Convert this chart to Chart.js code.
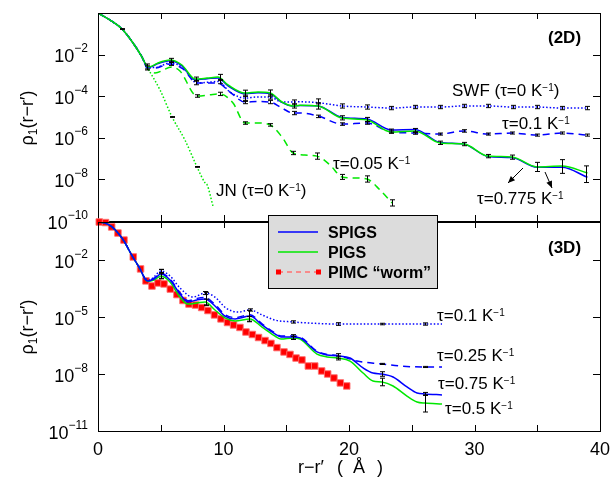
<!DOCTYPE html>
<html><head><meta charset="utf-8">
<script src="https://cdn.jsdelivr.net/npm/chart.js@4.4.1/dist/chart.umd.min.js"></script>
<style>
html,body{margin:0;padding:0;background:#fff;}
#wrap{position:relative;width:611px;height:481px;overflow:hidden;}
canvas{position:absolute;left:0;top:0;}
</style></head><body>
<div id="wrap"><canvas id="c2d" width="611" height="481"></canvas><canvas id="c3d" width="611" height="481"></canvas></div>
<script>
// ---------- DATA (r in Å, values given as log10 of rho_1) ----------
// 2D panel
const pigs2D_r   = [0,0.96,1.91,2.79,3.51,3.90,4.14,4.78,5.74,6.69,7.73,8.69,9.56,10.36,11.71,12.75,13.71,14.66,15.54,16.10,17.53,19.44,21.43,23.35,25.26,27.25,29.16,31.08,32.99,34.98,36.97,39.0];
const pigs2D_lg  = [0,-0.34,-0.77,-1.44,-2.12,-2.55,-2.58,-2.40,-2.26,-2.50,-3.17,-3.13,-3.08,-3.46,-3.85,-3.80,-3.85,-4.28,-4.47,-4.44,-4.47,-5.05,-5.14,-5.72,-5.67,-6.25,-6.30,-6.88,-6.92,-7.40,-7.36,-7.69];
const spigs2D_lg = [0,-0.34,-0.77,-1.44,-2.12,-2.56,-2.60,-2.43,-2.30,-2.54,-3.20,-3.16,-3.12,-3.50,-3.88,-3.84,-3.88,-4.30,-4.48,-4.45,-4.47,-5.02,-5.10,-5.62,-5.60,-6.22,-6.30,-6.90,-6.95,-7.42,-7.42,-7.90];
const swf2D_r    = [0,0.96,1.91,2.79,3.51,3.90,4.54,5.74,6.77,7.89,8.92,9.56,10.52,11.71,12.67,13.71,14.66,15.54,16.10,17.53,19.44,21.43,23.35,25.26,27.25,29.16,31.08,33.07,34.98,36.97,39.0];
const swf2D_lg   = [0,-0.34,-0.77,-1.44,-2.12,-2.60,-2.62,-2.40,-2.64,-3.37,-3.32,-3.29,-3.80,-4.09,-4.04,-4.04,-4.28,-4.28,-4.27,-4.31,-4.47,-4.52,-4.57,-4.52,-4.52,-4.47,-4.47,-4.52,-4.52,-4.57,-4.57];
const t01_2D_r   = [0,0.96,1.91,2.79,3.51,3.90,4.50,5.74,6.77,7.89,8.90,9.56,10.52,11.71,12.70,13.71,14.66,15.54,16.10,17.53,19.44,21.43,23.35,25.26,27.25,29.16,31.08,32.99,34.98,36.97,39.0];
const t01_2D_lg  = [0,-0.34,-0.77,-1.44,-2.12,-2.62,-2.65,-2.45,-2.69,-3.37,-3.36,-3.37,-3.80,-4.28,-4.26,-4.28,-4.57,-4.81,-4.81,-4.95,-5.34,-5.29,-5.72,-5.77,-5.82,-5.67,-5.82,-5.77,-5.87,-5.77,-5.87];
const t005_2D_r  = [0,0.96,1.91,2.79,3.51,3.90,4.54,5.90,6.53,7.89,8.84,9.72,10.76,11.71,12.75,13.71,14.66,15.54,16.49,17.45,18.49,19.44,20.48,21.43,22.47,23.43];
const t005_2D_lg = [0,-0.34,-0.77,-1.44,-2.12,-2.64,-2.88,-2.60,-2.79,-3.99,-3.94,-3.89,-4.33,-5.29,-5.29,-5.38,-5.96,-6.73,-6.83,-6.88,-7.31,-7.88,-7.93,-7.98,-8.51,-9.13];
const jn2D_r     = [0,0.96,1.91,2.79,3.51,3.90,4.14,4.94,5.90,6.93,7.89,8.53,8.70,9.16];
const jn2D_lg    = [0,-0.34,-0.77,-1.44,-2.12,-2.60,-2.84,-3.70,-5.00,-6.11,-7.40,-8.17,-8.27,-9.28];
// error bars [r, log10 centre, half length in decades]
const err2D_solid = [[1.91,-0.77,0.02],[3.90,-2.57,0.12],[5.85,-2.28,0.10],[7.82,-3.18,0.10],[9.75,-3.10,0.15],[11.71,-3.86,0.15],[13.71,-3.85,0.15],[15.58,-4.47,0.10],[17.53,-4.47,0.15],[19.44,-5.04,0.10],[21.43,-5.12,0.10],[23.35,-5.68,0.10],[25.26,-5.65,0.10],[27.25,-6.24,0.08],[29.16,-6.30,0.08],[31.08,-6.88,0.08],[32.99,-6.93,0.10],[34.98,-7.40,0.22],[36.97,-7.38,0.33],[38.88,-7.75,0.40]];
const err2D_swf   = [[3.90,-2.64,0.10],[5.85,-2.42,0.10],[7.82,-3.35,0.10],[9.75,-3.30,0.10],[11.71,-4.10,0.15],[13.71,-4.04,0.10],[15.58,-4.28,0.10],[17.53,-4.25,0.12],[19.44,-4.47,0.10],[21.43,-4.52,0.10],[23.35,-4.57,0.08],[25.26,-4.52,0.08],[27.25,-4.52,0.08],[29.16,-4.47,0.08],[31.08,-4.47,0.08],[33.07,-4.52,0.08],[34.98,-4.52,0.08],[36.97,-4.57,0.08],[38.96,-4.57,0.08]];
const err2D_t01   = [[11.71,-4.28,0.08],[13.71,-4.28,0.08],[15.58,-4.81,0.08],[17.53,-4.97,0.06],[19.44,-5.34,0.06],[21.43,-5.29,0.06],[23.35,-5.72,0.05],[25.26,-5.77,0.06],[27.25,-5.82,0.05],[29.16,-5.67,0.06],[31.08,-5.82,0.05],[32.99,-5.77,0.05],[34.98,-5.87,0.05],[36.97,-5.77,0.05],[38.96,-5.87,0.05]];
const err2D_t005  = [[7.89,-3.99,0.06],[9.72,-3.89,0.08],[11.71,-5.29,0.06],[13.71,-5.38,0.06],[15.54,-6.73,0.08],[17.45,-6.88,0.15],[19.44,-7.88,0.12],[21.43,-7.98,0.15],[23.43,-9.13,0.15]];
const err2D_jn    = [[5.90,-5.00,0.02],[7.89,-7.40,0.02]];

// 3D panel
const spigs3D_r  = [0,0.56,1.12,1.59,2.07,2.63,3.35,3.75,3.98,4.46,5.02,5.74,6.53,7.17,7.89,8.53,9.32,10.12,10.92,12.11,13.07,14.10,14.58,15.54,16.10,17.45,18.25,19.12,20.08,21.12,21.91,22.63,23.51,24.62,25.42,26.06,27.41];
const spigs3D_lg = [0,-0.05,-0.26,-0.58,-1.0,-1.68,-2.47,-3.0,-3.10,-3.0,-2.74,-3.05,-3.79,-4.21,-4.10,-4.05,-4.42,-4.95,-5.10,-4.95,-5.42,-5.89,-6.05,-6.05,-6.10,-6.84,-7.0,-7.05,-7.16,-7.68,-7.95,-8.0,-8.16,-8.68,-9.0,-9.05,-9.10];
const pigs3D_lg  = [0,-0.05,-0.26,-0.58,-1.0,-1.68,-2.47,-3.0,-3.12,-3.05,-2.84,-3.16,-3.95,-4.32,-4.26,-4.21,-4.63,-5.05,-5.21,-5.10,-5.53,-6.0,-6.16,-6.10,-6.16,-6.95,-7.10,-7.16,-7.32,-7.95,-8.37,-8.42,-8.63,-9.16,-9.47,-9.53,-9.58];
const t025_3D_r  = [0,0.56,1.12,1.59,2.07,2.63,3.35,3.75,3.98,4.46,5.02,5.74,6.53,7.17,7.89,8.53,9.32,10.12,10.92,12.11,13.07,14.10,14.58,15.54,16.10,17.45,18.25,19.12,20.64,22.63,24.06,26.06,27.41];
const t025_3D_lg = [0,-0.05,-0.26,-0.58,-1.0,-1.68,-2.47,-3.0,-3.08,-2.96,-2.70,-3.0,-3.72,-4.14,-4.02,-3.97,-4.34,-4.87,-5.03,-4.88,-5.36,-5.84,-6.0,-6.0,-6.05,-6.80,-6.97,-7.03,-7.32,-7.47,-7.58,-7.63,-7.63];
const t01_3D_r   = [0,0.56,1.12,1.59,2.07,2.63,3.35,3.75,4.14,4.46,5.02,5.74,6.53,7.57,8.53,9.32,10.20,11.16,12.11,13.07,14.10,15.54,16.90,19.12,22.63,26.06,27.41];
const t01_3D_lg  = [0,-0.05,-0.26,-0.58,-1.0,-1.68,-2.47,-2.95,-3.05,-2.89,-2.58,-2.84,-3.47,-3.95,-3.74,-3.95,-4.53,-4.74,-4.63,-4.89,-5.16,-5.26,-5.32,-5.37,-5.37,-5.37,-5.37];
const pimc3D_r   = [0.10,0.60,1.09,1.59,2.07,2.81,3.39,3.82,4.30,4.78,5.26,5.76,6.29,6.77,7.25,7.77,8.26,8.76,9.28,9.80,10.32,10.80,11.31,11.79,12.30,12.79,13.31,13.78,14.26,14.82,15.30,15.78,16.25,16.76,17.27,17.82,18.30,18.80,19.31,19.82];
const pimc3D_lg  = [0,-0.03,-0.26,-0.58,-0.95,-1.84,-2.47,-3.10,-3.37,-3.21,-3.26,-3.53,-3.82,-4.13,-4.32,-4.37,-4.50,-4.66,-4.89,-5.10,-5.29,-5.42,-5.55,-5.79,-5.92,-6.08,-6.24,-6.39,-6.61,-6.84,-6.97,-7.16,-7.26,-7.58,-7.58,-7.84,-8.0,-8.21,-8.47,-8.63];
const err3D_spigs = [[5.02,-2.74,0.25],[8.60,-4.05,0.35],[12.03,-4.95,0.30],[15.54,-6.05,0.12],[19.12,-7.05,0.12],[22.63,-8.0,0.12],[26.06,-9.05,0.08]];
const err3D_pigs  = [[5.02,-2.84,0.12],[8.60,-4.21,0.15],[12.03,-5.10,0.12],[15.54,-6.10,0.08],[19.12,-7.16,0.10],[22.63,-8.42,0.20],[26.06,-9.55,0.45]];
const err3D_t01   = [[5.02,-2.58,0.08],[8.53,-3.74,0.08],[12.11,-4.63,0.06],[15.54,-5.26,0.06],[19.12,-5.37,0.07],[22.63,-5.37,0.04],[26.06,-5.37,0.06]];
const err3D_t025  = [[22.63,-7.47,0.03],[26.06,-7.63,0.03]];

// axes
const xTickLabels = [0,10,20,30,40];
const xTickMarks  = [5,10,15,20,25,30,35];
const yExp2D = [-2,-4,-6,-8,-10];
const yExp3D = [-2,-5,-8,-11];

// ---------- helpers ----------
const FONT = '"Liberation Sans", Arial, Helvetica, sans-serif';
const BLUE = '#0000ff', GREEN = '#00e800';
const pts = (r, lg) => r.map((x, i) => ({x: x, y: Math.pow(10, lg[i])}));

function rich(ctx, x, y, parts, size, opts) {
  opts = opts || {};
  const fw = opts.bold ? 'bold ' : '';
  const ss = opts.supSize || Math.round(size * 0.62);
  const raise = opts.raise != null ? opts.raise : size * 0.35;
  const seg = parts.map(p => {
    const s = p[1] === 0 ? size : ss;
    ctx.font = fw + s + 'px ' + FONT;
    return {t: p[0], m: p[1], s: s, w: ctx.measureText(p[0]).width};
  });
  const total = seg.reduce((a, b) => a + b.w, 0);
  let cx = opts.align === 'right' ? x - total : opts.align === 'center' ? x - total / 2 : x;
  ctx.textAlign = 'left'; ctx.textBaseline = 'alphabetic'; ctx.fillStyle = '#000';
  for (const g of seg) {
    ctx.font = fw + g.s + 'px ' + FONT;
    const dy = g.m === 1 ? -raise : g.m === -1 ? size * 0.28 : 0;
    ctx.fillText(g.t, cx, y + dy);
    cx += g.w;
  }
}

const errPlugin = {
  id: 'errbars',
  afterDatasetsDraw(chart) {
    const ctx = chart.ctx, xs = chart.scales.x, ys = chart.scales.y;
    ctx.save();
    ctx.strokeStyle = '#000'; ctx.lineWidth = 1;
    chart.data.datasets.forEach(ds => {
      (ds.errs || []).forEach(e => {
        const px = Math.round(xs.getPixelForValue(e[0])) + 0.5;
        const y1 = ys.getPixelForValue(Math.pow(10, e[1] + e[2]));
        const y2 = ys.getPixelForValue(Math.pow(10, e[1] - e[2]));
        ctx.beginPath();
        ctx.moveTo(px, y1); ctx.lineTo(px, y2);
        ctx.moveTo(px - 2.5, y1); ctx.lineTo(px + 2.5, y1);
        ctx.moveTo(px - 2.5, y2); ctx.lineTo(px + 2.5, y2);
        ctx.stroke();
      });
    });
    ctx.restore();
  }
};

function frame(chart, yExps, showXLabels) {
  const ctx = chart.ctx, a = chart.chartArea, xs = chart.scales.x, ys = chart.scales.y;
  ctx.save();
  ctx.strokeStyle = '#000'; ctx.lineWidth = 1;
  ctx.strokeRect(Math.round(a.left) + 0.5, Math.round(a.top) + 0.5, Math.round(a.right - a.left), Math.round(a.bottom - a.top));
  ctx.beginPath();
  xTickMarks.forEach(v => {
    const px = Math.round(xs.getPixelForValue(v)) + 0.5;
    ctx.moveTo(px, a.bottom); ctx.lineTo(px, a.bottom - 6);
    ctx.moveTo(px, a.top); ctx.lineTo(px, a.top + 6);
  });
  yExps.forEach(ex => {
    const py = Math.round(ys.getPixelForValue(Math.pow(10, ex))) + 0.5;
    if (py > a.top + 2 && py < a.bottom - 2) {
      ctx.moveTo(a.left, py); ctx.lineTo(a.left + 7, py);
      ctx.moveTo(a.right, py); ctx.lineTo(a.right - 7, py);
    }
  });
  ctx.stroke();
  yExps.forEach(ex => {
    const py = ys.getPixelForValue(Math.pow(10, ex));
    rich(ctx, 88, py + 7.5, [['10', 0], ['\u2212' + Math.abs(ex), 1]], 18, {align: 'right', supSize: 12, raise: 10});
  });
  if (showXLabels) {
    ctx.font = '18px ' + FONT; ctx.textAlign = 'center'; ctx.textBaseline = 'alphabetic'; ctx.fillStyle = '#000';
    xTickLabels.forEach(v => ctx.fillText(String(v), xs.getPixelForValue(v), a.bottom + 24));
  }
  ctx.restore();
}

function yTitle(ctx, cx, cy) {
  ctx.save();
  ctx.translate(cx, cy); ctx.rotate(-Math.PI / 2);
  ctx.font = '18px ' + FONT;
  const w1 = ctx.measureText('\u03C1').width;
  ctx.font = '12px ' + FONT;
  const w2 = ctx.measureText('1').width;
  ctx.font = '18px ' + FONT;
  const w3 = ctx.measureText('(r\u2212r\u2032)').width;
  let x = -(w1 + w2 + w3) / 2;
  ctx.fillStyle = '#000'; ctx.textBaseline = 'alphabetic'; ctx.textAlign = 'left';
  ctx.fillText('\u03C1', x, 6); x += w1;
  ctx.font = '12px ' + FONT; ctx.fillText('1', x, 10); x += w2;
  ctx.font = '18px ' + FONT; ctx.fillText('(r\u2212r\u2032)', x, 6);
  ctx.restore();
}

function arrow(ctx, x1, y1, x2, y2) {
  ctx.beginPath(); ctx.moveTo(x1, y1); ctx.lineTo(x2, y2); ctx.stroke();
  const ang = Math.atan2(y2 - y1, x2 - x1), L = 7, W = 3;
  ctx.beginPath();
  ctx.moveTo(x2, y2);
  ctx.lineTo(x2 - L * Math.cos(ang) + W * Math.sin(ang), y2 - L * Math.sin(ang) - W * Math.cos(ang));
  ctx.lineTo(x2 - L * Math.cos(ang) - W * Math.sin(ang), y2 - L * Math.sin(ang) + W * Math.cos(ang));
  ctx.closePath(); ctx.fill();
}

const deco2D = {
  id: 'deco2D',
  afterDraw(chart) {
    const ctx = chart.ctx;
    frame(chart, yExp2D, false);
    yTitle(ctx, 27, 118);
    ctx.save();
    rich(ctx, 548, 43, [['(2D)', 0]], 17, {bold: true});
    const o = {supSize: 10, raise: 5.5};
    rich(ctx, 452, 96, [['SWF (\u03C4=0 K', 0], ['\u22121', 1], [')', 0]], 17, o);
    rich(ctx, 502, 129, [['\u03C4=0.1 K', 0], ['\u22121', 1]], 17, o);
    rich(ctx, 333, 169, [['\u03C4=0.05 K', 0], ['\u22121', 1]], 17, o);
    rich(ctx, 477, 204, [['\u03C4=0.775 K', 0], ['\u22121', 1]], 17, o);
    rich(ctx, 216, 196, [['JN (\u03C4=0 K', 0], ['\u22121', 1], [')', 0]], 17, o);
    ctx.strokeStyle = '#000'; ctx.fillStyle = '#000'; ctx.lineWidth = 1;
    arrow(ctx, 523, 168, 508, 183);
    arrow(ctx, 545, 172, 552, 188);
    ctx.restore();
  }
};

const deco3D = {
  id: 'deco3D',
  afterDraw(chart) {
    const ctx = chart.ctx;
    frame(chart, yExp3D, true);
    yTitle(ctx, 27, 327);
    ctx.save();
    rich(ctx, 548, 253, [['(3D)', 0]], 17, {bold: true});
    const o = {supSize: 10, raise: 5.5};
    rich(ctx, 437, 321, [['\u03C4=0.1 K', 0], ['\u22121', 1]], 17, o);
    rich(ctx, 437, 361, [['\u03C4=0.25 K', 0], ['\u22121', 1]], 17, o);
    rich(ctx, 438, 389, [['\u03C4=0.75 K', 0], ['\u22121', 1]], 17, o);
    rich(ctx, 445, 414, [['\u03C4=0.5 K', 0], ['\u22121', 1]], 17, o);
    // x-axis title
    ctx.font = '18px ' + FONT; ctx.fillStyle = '#000'; ctx.textAlign = 'left'; ctx.textBaseline = 'alphabetic';
    ctx.fillText('r\u2212r\u2032', 298, 473);
    ctx.fillText('(', 337, 473);
    ctx.fillText('\u00C5', 353, 473);
    ctx.fillText(')', 377, 473);
    // legend box
    ctx.fillStyle = '#dcdcdc'; ctx.fillRect(268, 215, 169, 73);
    ctx.strokeStyle = '#000'; ctx.lineWidth = 1; ctx.strokeRect(268.5, 215.5, 169, 73);
    const rows = [232, 252, 272];
    ctx.lineWidth = 1.5;
    ctx.strokeStyle = BLUE; ctx.beginPath(); ctx.moveTo(278, rows[0]); ctx.lineTo(318, rows[0]); ctx.stroke();
    ctx.strokeStyle = GREEN; ctx.beginPath(); ctx.moveTo(278, rows[1]); ctx.lineTo(318, rows[1]); ctx.stroke();
    ctx.strokeStyle = '#ff7070'; ctx.setLineDash([5, 4]); ctx.beginPath(); ctx.moveTo(278, rows[2]); ctx.lineTo(318, rows[2]); ctx.stroke();
    ctx.setLineDash([]);
    ctx.fillStyle = '#ff0000'; ctx.fillRect(276, rows[2] - 2.5, 5, 5); ctx.fillRect(316, rows[2] - 2.5, 5, 5);
    ctx.fillStyle = '#000'; ctx.font = 'bold 16px ' + FONT;
    ctx.fillText('SPIGS', 328, rows[0] + 6);
    ctx.fillText('PIGS', 328, rows[1] + 6);
    ctx.fillText('PIMC \u201Cworm\u201D', 328, rows[2] + 6);
    ctx.restore();
  }
};

function lineDs(data, color, dash, errs, extra) {
  return Object.assign({
    data: data, borderColor: color, backgroundColor: color, borderWidth: 1.5,
    borderDash: dash, pointRadius: 0, fill: false, cubicInterpolationMode: 'monotone', errs: errs
  }, extra || {});
}

function baseOpts(yMin, pad) {
  return {
    responsive: false, animation: false, devicePixelRatio: 1,
    layout: {padding: pad},
    plugins: {legend: {display: false}, tooltip: {enabled: false}},
    scales: {
      x: {type: 'linear', min: 0, max: 40, display: false},
      y: {type: 'logarithmic', min: yMin, max: 1, display: false}
    }
  };
}

new Chart(document.getElementById('c2d'), {
  type: 'line',
  data: {datasets: [
    lineDs(pts(pigs2D_r, pigs2D_lg), GREEN, [], err2D_solid),
    lineDs(pts(pigs2D_r, spigs2D_lg), BLUE, []),
    lineDs(pts(swf2D_r, swf2D_lg), BLUE, [1.5, 2], err2D_swf),
    lineDs(pts(t01_2D_r, t01_2D_lg), BLUE, [7, 5], err2D_t01),
    lineDs(pts(t005_2D_r, t005_2D_lg), GREEN, [7, 5], err2D_t005),
    lineDs(pts(jn2D_r, jn2D_lg), GREEN, [1.5, 2], err2D_jn)
  ]},
  options: baseOpts(1e-10, {left: 98, right: 11, top: 13, bottom: 260}),
  plugins: [errPlugin, deco2D]
});

new Chart(document.getElementById('c3d'), {
  type: 'line',
  data: {datasets: [
    lineDs(pts(spigs3D_r, spigs3D_lg), BLUE, [], err3D_spigs),
    lineDs(pts(spigs3D_r, pigs3D_lg), GREEN, [], err3D_pigs),
    lineDs(pts(t025_3D_r, t025_3D_lg), BLUE, [7, 5], err3D_t025),
    lineDs(pts(t01_3D_r, t01_3D_lg), BLUE, [1.5, 2], err3D_t01),
    lineDs(pts(pimc3D_r, pimc3D_lg), '#ff7070', [5, 4], null, {
      borderWidth: 1, pointStyle: 'rect', pointRadius: 4.6, pointBackgroundColor: '#ff0000',
      pointBorderColor: 'rgba(255,110,110,0.9)', pointBorderWidth: 1, cubicInterpolationMode: 'default', clip: false
    })
  ]},
  options: baseOpts(1e-11, {left: 98, right: 11, top: 222, bottom: 50}),
  plugins: [errPlugin, deco3D]
});
</script>
</body></html>
